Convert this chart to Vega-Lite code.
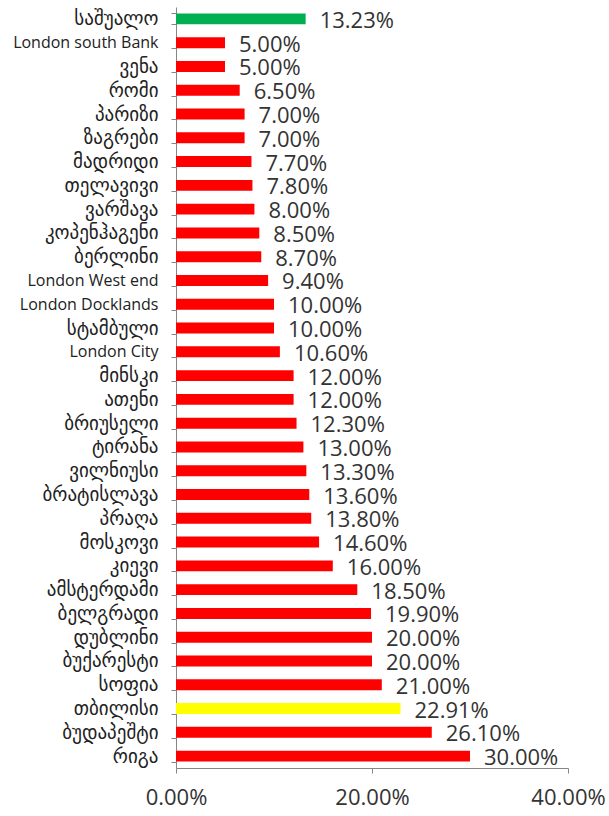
{
  "$schema": "https://vega.github.io/schema/vega-lite/v6.json",
  "width": 392,
  "height": 761,
  "autosize": {"type": "none"},
  "padding": {"left": 176, "top": 7, "right": 41, "bottom": 48},
  "background": "white",
  "config": {"view": {"stroke": null}, "font": "Open Sans, DejaVu Sans"},
  "data": {"values": [
    {"city": "საშუალო", "value": 0.1323, "kind": "average"},
    {"city": "London south Bank", "value": 0.05, "kind": "city"},
    {"city": "ვენა", "value": 0.05, "kind": "city"},
    {"city": "რომი", "value": 0.065, "kind": "city"},
    {"city": "პარიზი", "value": 0.07, "kind": "city"},
    {"city": "ზაგრები", "value": 0.07, "kind": "city"},
    {"city": "მადრიდი", "value": 0.077, "kind": "city"},
    {"city": "თელავივი", "value": 0.078, "kind": "city"},
    {"city": "ვარშავა", "value": 0.08, "kind": "city"},
    {"city": "კოპენჰაგენი", "value": 0.085, "kind": "city"},
    {"city": "ბერლინი", "value": 0.087, "kind": "city"},
    {"city": "London West end", "value": 0.094, "kind": "city"},
    {"city": "London Docklands", "value": 0.10, "kind": "city"},
    {"city": "სტამბული", "value": 0.10, "kind": "city"},
    {"city": "London City", "value": 0.106, "kind": "city"},
    {"city": "მინსკი", "value": 0.12, "kind": "city"},
    {"city": "ათენი", "value": 0.12, "kind": "city"},
    {"city": "ბრიუსელი", "value": 0.123, "kind": "city"},
    {"city": "ტირანა", "value": 0.13, "kind": "city"},
    {"city": "ვილნიუსი", "value": 0.133, "kind": "city"},
    {"city": "ბრატისლავა", "value": 0.136, "kind": "city"},
    {"city": "პრაღა", "value": 0.138, "kind": "city"},
    {"city": "მოსკოვი", "value": 0.146, "kind": "city"},
    {"city": "კიევი", "value": 0.16, "kind": "city"},
    {"city": "ამსტერდამი", "value": 0.185, "kind": "city"},
    {"city": "ბელგრადი", "value": 0.199, "kind": "city"},
    {"city": "დუბლინი", "value": 0.20, "kind": "city"},
    {"city": "ბუქარესტი", "value": 0.20, "kind": "city"},
    {"city": "სოფია", "value": 0.21, "kind": "city"},
    {"city": "თბილისი", "value": 0.2291, "kind": "tbilisi"},
    {"city": "ბუდაპეშტი", "value": 0.261, "kind": "city"},
    {"city": "რიგა", "value": 0.30, "kind": "city"}
  ]},
  "encoding": {
    "y": {
      "field": "city", "type": "nominal", "sort": null,
      "scale": {"paddingInner": 0.54, "paddingOuter": 0.27},
      "axis": {
        "title": null, "tickBand": "extent", "tickSize": 5,
        "domainColor": "#868686", "tickColor": "#868686",
        "labelFontSize": {"condition": {"test": "test(/^London/, datum.value)", "value": 16}, "value": 19},
        "labelColor": "#222", "labelPadding": 13, "labelLimit": 200,
        "labelFont": "Open Sans, DejaVu Sans"
      }
    },
    "x": {
      "field": "value", "type": "quantitative",
      "scale": {"domain": [0, 0.4], "nice": false},
      "axis": {
        "title": null, "values": [0, 0.2, 0.4], "format": ".2%", "grid": false,
        "tickSize": 5, "domainColor": "#868686", "tickColor": "#868686",
        "labelFontSize": 22, "labelColor": "#333", "labelPadding": 14,
        "labelFlush": false, "labelOverlap": false, "labelBound": false,
        "labelFont": "Open Sans"
      }
    }
  },
  "layer": [
    {
      "mark": {"type": "bar"},
      "encoding": {
        "color": {
          "field": "kind", "type": "nominal", "legend": null,
          "scale": {"domain": ["average", "city", "tbilisi"], "range": ["#00B050", "#FF0000", "#FFFF00"]}
        }
      }
    },
    {
      "mark": {"type": "text", "align": "left", "baseline": "middle", "dx": 14, "dy": 2, "fontSize": 22, "color": "#333", "font": "Open Sans"},
      "encoding": {"text": {"field": "value", "type": "quantitative", "format": ".2%"}}
    }
  ]
}
